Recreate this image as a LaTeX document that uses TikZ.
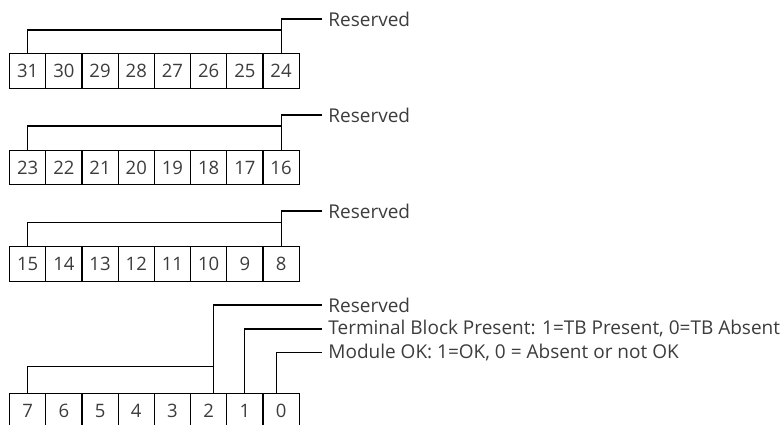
\documentclass[tikz,border=0pt]{standalone}
\usepackage{fontspec}
\setmainfont{Open Sans}
\definecolor{txt}{HTML}{3C3C3C}
\begin{document}
\begin{tikzpicture}[x=1pt,y=-1pt,
  cell/.style={draw=black,line width=1.1pt,minimum width=36.2pt,minimum height=35pt,inner sep=0pt,
    text=txt,font=\fontsize{18.5}{18.5}\selectfont,anchor=north west},
  lbl/.style={anchor=west,inner xsep=6.5pt,inner ysep=0pt,text=txt,font=\fontsize{19}{19}\selectfont},
  wire/.style={draw=black,line width=1.1pt}]
\useasboundingbox (0,0) rectangle (782,425);
% rows of bit cells
\foreach \n [count=\i from 0] in {31,30,29,28,27,26,25,24} {
  \node[cell] (b\n) at (9+36.2*\i,53) {\n};}
\foreach \n [count=\i from 0] in {23,22,21,20,19,18,17,16} {
  \node[cell,minimum height=34pt] (b\n) at (9+36.2*\i,150) {\n};}
\foreach \n [count=\i from 0] in {15,14,13,12,11,10,9,8} {
  \node[cell] (b\n) at (9+36.2*\i,246) {\n};}
\foreach \n [count=\i from 0] in {7,6,5,4,3,2,1,0} {
  \node[cell] (b\n) at (9+36.2*\i,392.5) {\n};}
% labels
\node[lbl] (r1) at (321.7,19) {Reserved};
\node[lbl] (r2) at (321.7,115) {Reserved};
\node[lbl] (r3) at (321.7,211) {Reserved};
\node[lbl] (r4) at (321.7,305) {Reserved};
\node[lbl] (tb) at (321.7,329) {Terminal Block Present: 1=TB Present, 0=TB Absent};
\node[lbl] (mo) at (321.7,352.3) {Module OK: 1=OK, 0 = Absent or not OK};
% row 1
\draw[wire] (b31.north) |- ([yshift=23pt]b24.north);
\draw[wire] (b24.north) |- (r1.west);
% row 2
\draw[wire] (b23.north) |- ([yshift=24pt]b16.north);
\draw[wire] (b16.north) |- (r2.west);
% row 3
\draw[wire] (b15.north) |- ([yshift=23.7pt]b8.north);
\draw[wire] (b8.north) |- (r3.west);
% row 4
\coordinate (k2) at ([xshift=4.5pt]b2.north);
\coordinate (k0) at ([xshift=-4.8pt]b0.north);
\draw[wire] (b7.north) |- ([yshift=25.8pt]k2);
\draw[wire] (k2) |- (r4.west);
\draw[wire] (b1.north) |- (tb.west);
\draw[wire] (k0) |- (mo.west);
\end{tikzpicture}
\end{document}
